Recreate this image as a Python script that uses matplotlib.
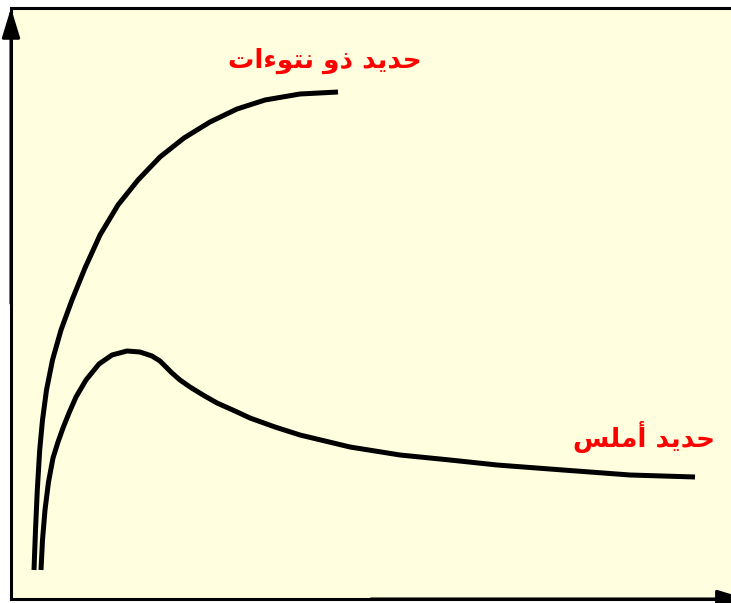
import matplotlib
matplotlib.use("Agg")
import matplotlib.pyplot as plt

# curve values (x right from origin, y up from origin)
rough_px = [34, 35.5, 37.3, 39.7, 42.5, 46.5, 52.5, 61, 72, 85, 100, 118, 138, 160,
            184, 210, 237, 265, 300, 338]
rough_py = [570, 530, 490, 450, 420, 390, 360, 330, 300, 268, 235, 205, 180, 157,
            138, 122, 109, 100, 94, 92]

smooth_px = [41, 42.5, 45, 48.5, 53, 58, 63, 69, 76, 86, 99, 112, 127, 140, 152, 160,
             166, 172, 180, 190, 203, 217, 235, 250, 275, 300, 325, 350, 400, 450,
             497, 563, 630, 695]
smooth_py = [570, 540, 510, 482, 458, 442, 428, 413, 397, 380, 364, 355, 351, 352, 356,
             361, 367, 373, 380, 387, 395, 403, 411, 418, 427, 435, 441, 447, 455, 460,
             465, 470, 475, 477]

# origin of the axes in the picture
rough_x = [v - 11 for v in rough_px]
rough_y = [599 - v for v in rough_py]
smooth_x = [v - 11 for v in smooth_px]
smooth_y = [599 - v for v in smooth_py]

rough_label = "حديد ذو نتوءات"
smooth_label = "حديد أملس"

# minimal arabic shaping: isolated, final, initial, medial forms
FORMS = {
    "ح": ("\uFEA1", "\uFEA2", "\uFEA3", "\uFEA4"),
    "د": ("\uFEA9", "\uFEAA", None, None),
    "ذ": ("\uFEAB", "\uFEAC", None, None),
    "ي": ("\uFEF1", "\uFEF2", "\uFEF3", "\uFEF4"),
    "و": ("\uFEED", "\uFEEE", None, None),
    "ن": ("\uFEE5", "\uFEE6", "\uFEE7", "\uFEE8"),
    "ت": ("\uFE95", "\uFE96", "\uFE97", "\uFE98"),
    "ء": ("\uFE80", None, None, None),
    "ا": ("\uFE8D", "\uFE8E", None, None),
    "أ": ("\uFE83", "\uFE84", None, None),
    "م": ("\uFEE1", "\uFEE2", "\uFEE3", "\uFEE4"),
    "ل": ("\uFEDD", "\uFEDE", "\uFEDF", "\uFEE0"),
    "س": ("\uFEB1", "\uFEB2", "\uFEB3", "\uFEB4"),
}


def shape(text):
    out = []
    for word in text.split(" "):
        glyphs = []
        for i, ch in enumerate(word):
            prev = word[i - 1] if i > 0 else None
            nxt = word[i + 1] if i + 1 < len(word) else None
            joins_prev = prev is not None and FORMS[prev][2] is not None and FORMS[ch][1] is not None
            joins_next = nxt is not None and FORMS[ch][2] is not None and FORMS[nxt][1] is not None
            if joins_prev and joins_next:
                g = FORMS[ch][3]
            elif joins_prev:
                g = FORMS[ch][1]
            elif joins_next:
                g = FORMS[ch][2]
            else:
                g = FORMS[ch][0]
            glyphs.append(g)
        out.append("".join(reversed(glyphs)))
    return " ".join(reversed(out))


fig = plt.figure(figsize=(7.31, 6.03), dpi=100)
ax = fig.add_axes([11 / 731, 4 / 603, 720 / 731, 591 / 603])
ax.set_facecolor("#FFFFE0")
ax.set_xlim(0, 720)
ax.set_ylim(0, 591)
ax.set_xticks([])
ax.set_yticks([])
ax.spines["right"].set_visible(False)
for s in ["left", "bottom", "top"]:
    ax.spines[s].set_linewidth(2.2)

ax.plot(rough_x, rough_y, color="black", lw=3.6, solid_capstyle="butt", solid_joinstyle="round")
ax.plot(smooth_x, smooth_y, color="black", lw=3.6, solid_capstyle="butt", solid_joinstyle="round")

ax.text(314, 538, shape(rough_label), color="red", fontsize=19, fontweight="bold",
        family=["DejaVu Sans"], ha="center", va="center")
ax.text(633, 162, shape(smooth_label), color="red", fontsize=19, fontweight="bold",
        family=["DejaVu Sans"], ha="center", va="center")

arrow = dict(arrowstyle="-|>,head_length=1.8,head_width=0.55", color="black", lw=2.2,
             shrinkA=0, shrinkB=0)
ax.annotate("", xy=(0, 1), xytext=(0, 0.5), xycoords="axes fraction",
            arrowprops=arrow, annotation_clip=False)
ax.annotate("", xy=(1.022, 0), xytext=(0.5, 0), xycoords="axes fraction",
            arrowprops=arrow, annotation_clip=False)

fig.savefig("out.png", dpi=100)
